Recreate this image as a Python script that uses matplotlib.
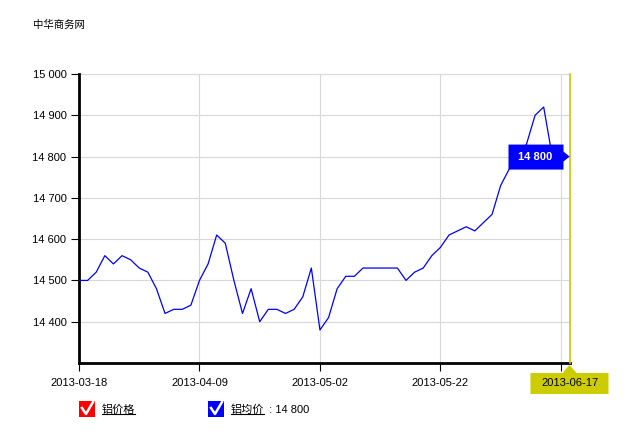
import matplotlib
matplotlib.use("Agg")  # headless

import matplotlib.pyplot as plt
from matplotlib.lines import Line2D
from matplotlib.patches import Polygon, Rectangle
from matplotlib.ticker import FuncFormatter

# ── data ────────────────────────────────────────────────────────────────
prices = [
    14500, 14500, 14520, 14560, 14540, 14560, 14550, 14530, 14520, 14480,
    14420, 14430, 14430, 14440, 14500, 14540, 14610, 14590, 14500, 14420,
    14480, 14400, 14430, 14430, 14420, 14430, 14460, 14530, 14380, 14410,
    14480, 14510, 14510, 14530, 14530, 14530, 14530, 14530, 14500, 14520,
    14530, 14560, 14580, 14610, 14620, 14630, 14620, 14640, 14660, 14730,
    14770, 14800, 14830, 14900, 14920, 14800, 14800, 14800,
]
y_ticks = [14400, 14500, 14600, 14700, 14800, 14900, 15000]
tick_idx = [0, 14, 28, 42, 56]
tick_labels = ["2013-03-18", "2013-04-09", "2013-05-02", "2013-05-22", ""]
cursor_idx = 57
cursor_date = "2013-06-17"
series_names = ["铝价格", "铝均价"]
series_colors = ["#ff0000", "#0000ff"]
title = "中华商务网"

FONT = ["Liberation Sans", "Noto Sans CJK SC"]
plt.rcParams["font.family"] = FONT

W, H = 635, 437
YELLOW = "#cccc00"
GRID = "#d8d8d8"


def fpx(x, y):
    """image pixel (origin top-left) -> figure fraction"""
    return (x / W, 1 - y / H)


def fmt(v):
    return f"{v:,.0f}".replace(",", " ")


fig = plt.figure(figsize=(W / 100, H / 100), dpi=100, facecolor="white")
ax = fig.add_axes([79 / W, 1 - 363 / H, (569.5 - 79) / W, (363 - 74) / H])

x = list(range(len(prices)))
ax.plot(x, prices, color=series_colors[1], lw=0.9, zorder=3)

ax.set_xlim(0, len(prices) - 1)
ax.set_ylim(14300, 15000)
ax.set_yticks(y_ticks)
ax.yaxis.set_major_formatter(FuncFormatter(lambda v, _: fmt(v)))
ax.set_xticks(tick_idx)
ax.set_xticklabels(tick_labels)

ax.grid(True, color=GRID, lw=0.8, zorder=0)
ax.set_axisbelow(True)
ax.spines["top"].set_visible(False)
ax.spines["right"].set_color(GRID)
ax.spines["right"].set_linewidth(0.8)
for s in ["left", "bottom"]:
    ax.spines[s].set_linewidth(2)
    ax.spines[s].set_color("black")
ax.tick_params(axis="y", length=6, width=0.8, pad=3, labelsize=8)
ax.tick_params(axis="x", length=6, width=0.8, pad=5, labelsize=8)

# cursor line
ax.axvline(cursor_idx, color=YELLOW, lw=1.2, zorder=4, clip_on=False)

fig.text(*fpx(33, 25), title, fontsize=7.5, ha="left", va="center",
         family=["Noto Sans CJK SC"])

# value balloon pointing at the cursor point
d = ax.transData.transform((cursor_idx, prices[cursor_idx]))
ax_x, ax_y = d[0], H - d[1]
box = [(-61, -12), (-6, -12), (-6, -5), (0, 0), (-6, 5), (-6, 13), (-61, 13)]
fig.add_artist(Polygon([fpx(ax_x + a, ax_y + b) for a, b in box],
                       closed=True, transform=fig.transFigure,
                       fc=series_colors[1], ec="none", zorder=20))
fig.text(*fpx(ax_x - 34, ax_y + 0.5), fmt(prices[cursor_idx]),
         color="white", fontsize=8, fontweight="bold",
         ha="center", va="center", zorder=21)

# date balloon under the axis
cx = ax_x
dbox = [(-39, 10), (-7, 10), (0, 2), (7, 10), (39, 10), (39, 31), (-39, 31)]
fig.add_artist(Polygon([fpx(cx + a, 363 + b) for a, b in dbox],
                       closed=True, transform=fig.transFigure,
                       fc=YELLOW, ec="none", zorder=20))
fig.text(*fpx(cx, 383), cursor_date, fontsize=8, ha="center", va="center",
         color="black", zorder=21)

# legend with check boxes
legend_x = [79, 208]
texts = []
for lx, name, col in zip(legend_x, series_names, series_colors):
    fig.add_artist(Rectangle(fpx(lx, 417), 16 / W, 16 / H,
                             transform=fig.transFigure, fc=col, ec="none"))
    chk = [fpx(lx + 3, 408), fpx(lx + 7, 414), fpx(lx + 14, 402)]
    fig.add_artist(Line2D([p[0] for p in chk], [p[1] for p in chk],
                          transform=fig.transFigure, color="white", lw=1.8))
    t = fig.text(*fpx(lx + 23, 410), name, fontsize=8, ha="left", va="center",
                 family=["Noto Sans CJK SC"])
    texts.append(t)

fig.canvas.draw()
r = fig.canvas.get_renderer()
for t in texts:
    bb = t.get_window_extent(r)
    y_ul = bb.y0 + 1
    fig.add_artist(Line2D([bb.x0 / W, bb.x1 / W], [y_ul / H, y_ul / H],
                          transform=fig.transFigure, color="black", lw=0.8))
bb = texts[1].get_window_extent(r)
fig.text((bb.x1 + 2) / W, fpx(0, 410)[1], " : " + fmt(prices[-1]),
         fontsize=8, ha="left", va="center")

fig.savefig("out.png", dpi=100, facecolor="white")
